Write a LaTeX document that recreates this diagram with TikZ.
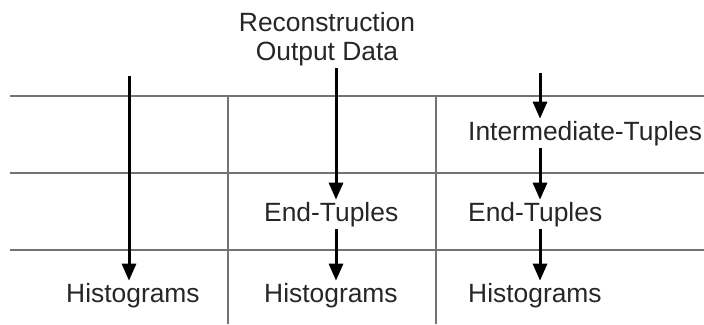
\documentclass[tikz,border=0pt]{standalone}
\usepackage{fontspec}
\setmainfont{Liberation Sans}
\usetikzlibrary{arrows.meta, positioning}

\begin{document}
\begin{tikzpicture}[x=1pt, y=-1pt,
    lbl/.style={font=\fontsize{26.4}{29}\selectfont, text=black!85, inner sep=2pt, anchor=base west},
    flow/.style={line width=3pt, -{Triangle[width=14pt, length=17pt]}},
    gridline/.style={line width=2pt, black!55}]
    \useasboundingbox (0,0) rectangle (704,324);
    % table lines
    \draw[gridline] (10,96) -- (704,96);
    \draw[gridline] (10,173) -- (704,173);
    \draw[gridline] (10,250) -- (704,250);
    \draw[gridline, line width=1.5pt] (228,96) -- (228,324);
    \draw[gridline, line width=1.5pt] (436,96) -- (436,324);

    % labels
    \node[lbl, anchor=center, align=center] (recon) at (327,39) {Reconstruction\\Output Data};
    \node[lbl] (inter) at (466,140) {Intermediate-Tuples};
    \node[lbl] (endB) at (262,221) {End-Tuples};
    \node[lbl] (endC) at (466,221) {End-Tuples};
    \node[lbl] (histA) at (64,302) {Histograms};
    \node[lbl] (histB) at (262,302) {Histograms};
    \node[lbl] (histC) at (466,302) {Histograms};
    \coordinate (topA) at (129,76);
    \coordinate (topB) at (336,73);
    \coordinate (topC) at (540,73);

    % flows
    \draw[flow] (topA) -- (histA.north -| topA);
    \draw[flow] (recon.south -| topB) -- (endB.north -| topB);
    \draw[flow] (endB.south -| topB) -- (histB.north -| topB);
    \draw[flow] (topC) -- (inter.north -| topC);
    \draw[flow] (inter.south -| topC) -- (endC.north -| topC);
    \draw[flow] (endC.south -| topC) -- (histC.north -| topC);
\end{tikzpicture}
\end{document}
